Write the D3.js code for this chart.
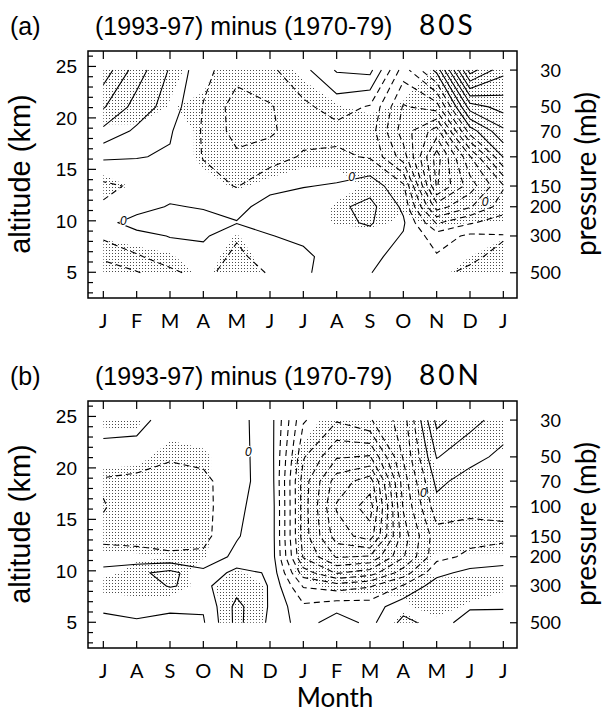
<!DOCTYPE html>
<html><head><meta charset="utf-8">
<script src="https://cdn.jsdelivr.net/npm/d3@7"></script>
<style>body{margin:0;background:#fff}</style>
</head><body>
<svg id="chart" width="605" height="713"></svg>
<script>
// ---------------- data ----------------
const pressureLevels = [500, 400, 300, 250, 200, 150, 100, 70, 50, 30];   // grid rows (bottom -> top)
const monthsA = ["J","F","M","A","M","J","J","A","S","O","N","D","J"];
const monthsB = ["J","A","S","O","N","D","J","F","M","A","M","J","J"];
const altitudeTicks = [5, 10, 15, 20, 25];
const pressureTicks = [30, 50, 70, 100, 150, 200, 300, 500];
const contourLevels = d3.range(-12, 9, 1);

// temperature difference (K), (1993-97) minus (1970-79), 80S; rows = pressureLevels, cols = months
const tempDiffA = [
  [-2.6,-2.1,-1.2,-0.65,-1.6,-0.9,-0.2, 0.6, 0.05,-0.8,-0.9,-1.1,-1.8],
  [-1.8,-1.1,-0.6,-0.5,-1.2,-0.6,-0.3, 0.6, 0.5,-0.75,-0.9,-0.9,-1.15],
  [-0.8,-0.4, 0.05, 0.2,-0.9,-0.05, 0.3, 0.6, 0.7,-0.09,-1.5,-0.8,-0.95],
  [-0.4, 0.5, 0.6, 0.5, 0.05, 0.4, 0.6, 0.8, 1.1, 0.15,-3.1,-2.1,-1.5],
  [-0.9,-0.5, 0.1,-0.1,-0.3, 0.4, 0.6, 0.8, 1.3,-0.2,-5.5,-4.1,-2.5],
  [-1.2,-0.85,-0.6,-0.6,-1.05,-0.3,-0.05, 0.1, 0.6,-0.8,-8.1,-5.5,-3.1],
  [ 0.15, 0.05,-0.1,-1.05,-1.8,-1.4,-0.9,-0.8,-1.1,-3.5,-8.5,-4.1, 0.05],
  [ 1.75, 0.8, 0.1,-1.1,-2.4,-2.2,-1.3,-1.3,-1.5,-4.5,-6.5,-0.5, 1.8],
  [ 3.1, 1.6, 0.55,-1.05,-2.5,-2.1,-1.2,-0.6,-1.1,-4.1,-3.5, 2.5, 3.4],
  [ 4.6, 2.5, 0.9,-0.7,-1.6,-1.2,-0.3, 1.1, 1.3,-2.5, 0.3, 7.5, 5.3]
];
// significance mask (stippled where > 0.5), 80S
const signifA = [
  [1, 1, 1, 0.3, 1, 0.3, 0, 0, 0, 0, 0.3, 0.8, 1],
  [1, 1, 0.6, 0, 1, 0, 0, 0, 0, 0, 0.2, 0.5, 1],
  [0.4, 0, 0, 0, 0.55, 0, 0, 0, 0, 0, 0, 0, 0.4],
  [0, 0, 0, 0, 0, 0, 0, 0.6, 0.8, 0.3, 0.7, 0.5, 0.5],
  [0.2, 0, 0, 0, 0, 0, 0, 0.6, 1, 0.6, 1, 1, 1],
  [0.8, 0.4, 0, 0.2, 0.6, 0.3, 0, 0.2, 0.6, 1, 1, 1, 1],
  [0, 0, 0, 0.7, 1, 1, 0.8, 0.7, 1, 1, 1, 1, 1],
  [0.3, 0.3, 0, 0.7, 1, 1, 1, 1, 1, 1, 1, 1, 1],
  [1, 1, 0.45, 0.7, 1, 1, 1, 0.55, 0.3, 0.6, 1, 1, 1],
  [1, 1, 0.7, 0.2, 1, 1, 0.3, 0, 0, 0, 0.6, 1, 1]
];
// 80N
const tempDiffB = [
  [-0.3,-0.1,-0.3,-0.1, 2.3, 0.8,-0.5, 0.6,-0.3, 1.3, 0.6, 1.4, 1.5],
  [ 0.2, 0.3, 0.2, 0.1, 2.3, 0.9,-0.8,-0.4,-0.5, 0.6, 0.8, 0.9, 0.9],
  [ 0.5, 0.6, 1.05, 0.8, 1.6, 0.95,-2.1,-2.5,-2.1,-0.9, 0.5, 0.8, 0.7],
  [ 0.4, 0.8, 1.3, 0.3, 1.3, 0.9,-3.5,-5.1,-4.5,-2.5,-0.3, 0.3, 0.5],
  [-0.7,-0.7,-0.8,-0.8, 0.3, 0.8,-5.1,-7.1,-6.9,-4.1,-1.3,-0.8,-0.6],
  [-1.2,-1.3,-1.5,-1.3,-0.1, 0.8,-5.5,-8.5,-9.5,-4.5,-1.4,-1.3,-1.2],
  [-0.95,-1.4,-1.5,-1.3,-0.3, 0.8,-5.5,-9.1,-10.5,-3.9,-0.4,-0.8,-0.8],
  [-1.1,-1.3,-1.4,-1.2,-0.5, 0.7,-5.5,-8.5,-9.5,-3.5, 0.3,-0.5,-0.6],
  [-0.4,-0.4,-0.9,-0.8,-0.4, 0.6,-4.9,-6.9,-7.1,-2.9, 1.05, 0.4,-0.3],
  [ 0.4, 0.3,-0.4,-0.5,-0.3, 0.5,-3.9,-4.9,-4.1,-2.5, 2.3, 1.3, 0.6]
];
const signifB = [
  [0, 0, 0, 0, 1, 0.4, 0, 0, 0, 0.7, 0.3, 0, 0],
  [0, 0, 0, 0, 1, 0.4, 0, 0, 0, 0.4, 0.8, 0.4, 0],
  [0.8, 1, 1, 0.2, 1, 0.4, 0.3, 0.7, 0.8, 0.6, 0.8, 0.8, 0.7],
  [0.3, 0.7, 1, 0.1, 0.6, 0.2, 0.6, 1, 1, 1, 0.3, 0.4, 0.4],
  [0.35, 0.4, 0.5, 0.55, 0, 0, 0.6, 1, 1, 1, 0.4, 0.4, 0.4],
  [1, 1, 1, 0.65, 0, 0, 0.6, 1, 1, 1, 1, 1, 1],
  [1, 1, 1, 0.65, 0, 0, 0.6, 1, 1, 1, 1, 1, 1],
  [1, 1, 1, 0.65, 0, 0, 0.6, 1, 1, 1, 0.6, 0.6, 0.6],
  [0.1, 0.2, 0.9, 0.65, 0, 0, 0.8, 1, 1, 1, 0.4, 0.4, 0.4],
  [0.6, 0.6, 0, 0, 0, 0, 0, 1, 1, 1, 1, 1, 1]
];
// positions (month index, altitude km) of the "0" contour labels
const zeroLabelsA = [[0.6, 10.0], [7.45, 14.3], [11.45, 11.85]];
const zeroLabelsB = [[4.35, 21.6], [9.6, 17.6]];

// ---------------- drawing ----------------
const svg = d3.select("#chart");
const altOfP = p => 7 * Math.log(1000 / p) + 0.1;
const rowAlt = d3.scaleLinear().domain(d3.range(pressureLevels.length)).range(pressureLevels.map(altOfP));
const nx = 13, ny = pressureLevels.length;

const defs = svg.append("defs");
const pat = defs.append("pattern").attr("id", "dots").attr("patternUnits", "userSpaceOnUse")
  .attr("width", 3).attr("height", 3);
pat.append("rect").attr("x", 1).attr("y", 1).attr("width", 1).attr("height", 1).attr("fill", "#4a4a4a");

const X0 = 88, X1 = 517, PH = 247;
const hersh = "Lato, 'Open Sans', sans-serif";
const helv = "'Liberation Sans', Arial, sans-serif";

function contourLines(values, level) {
  const c = d3.contours().size([nx, ny]).thresholds([level])(values.flat())[0];
  const out = [];
  const isB = p => p[0] <= 0 || p[0] >= nx || p[1] <= 0 || p[1] >= ny;
  for (const poly of c.coordinates) for (const ring of poly) {
    const pts = ring.slice(0, ring.length - 1);
    const b = pts.findIndex(isB);
    if (b < 0) { out.push(pts.concat([pts[0]])); continue; }
    const rot = pts.slice(b).concat(pts.slice(0, b));
    let run = [];
    for (const p of rot) {
      if (isB(p)) { if (run.length > 1) out.push(run); run = []; }
      else run.push(p);
    }
    if (run.length > 1) out.push(run);
  }
  return out;
}

function drawPanel(cfg) {
  const top = cfg.top, bottom = top + PH;
  const x = d3.scaleLinear().domain([-0.46, 12.41]).range([X0, X1]);
  const y = d3.scaleLinear().domain([2.5, 26.5]).range([bottom, top]);
  const g = svg.append("g");
  const clipId = "clip" + cfg.id;
  defs.append("clipPath").attr("id", clipId).append("rect")
    .attr("x", X0).attr("y", top).attr("width", X1 - X0).attr("height", PH);
  const px = p => {
    const xi = Math.max(0, Math.min(nx - 1, p[0] - 0.5));
    const yi = Math.max(0, Math.min(ny - 1, p[1] - 0.5));
    return [x(xi), y(rowAlt(yi))];
  };
  const plot = g.append("g").attr("clip-path", `url(#${clipId})`);

  // stipple (significance)
  const sc = d3.contours().size([nx, ny]).thresholds([0.5])(cfg.sig.flat())[0];
  let dstr = "";
  for (const poly of sc.coordinates) for (const ring of poly) {
    dstr += "M" + ring.map(p => px(p).map(v => v.toFixed(2)).join(",")).join("L") + "Z";
  }
  plot.append("path").attr("d", dstr).attr("fill", "url(#dots)").attr("fill-rule", "evenodd");

  // contour lines
  const line = d3.line().x(p => px(p)[0]).y(p => px(p)[1]);
  for (const lev of contourLevels) {
    const lines = contourLines(cfg.temp, lev);
    for (const l of lines) {
      plot.append("path").attr("d", line(l)).attr("fill", "none")
        .attr("stroke", "#000").attr("stroke-width", 1.1)
        .attr("stroke-dasharray", lev < 0 ? "6,4" : null);
    }
  }
  // zero labels
  for (const [m, a] of cfg.zeros) {
    plot.append("ellipse").attr("cx", x(m)).attr("cy", y(a)).attr("rx", 4).attr("ry", 6).attr("fill", "#fff");
    plot.append("text").attr("x", x(m)).attr("y", y(a)).attr("dy", "0.36em")
      .attr("text-anchor", "middle").attr("font-family", helv).attr("font-style", "italic")
      .attr("font-size", 12).attr("fill", "#000").text("0");
  }

  // frame
  g.append("rect").attr("x", X0).attr("y", top).attr("width", X1 - X0).attr("height", PH)
    .attr("fill", "none").attr("stroke", "#000").attr("stroke-width", 1.5);
  // month ticks (top and bottom, inward)
  d3.range(13).forEach(i => {
    g.append("line").attr("x1", x(i)).attr("x2", x(i)).attr("y1", top).attr("y2", top + 8).attr("stroke", "#000").attr("stroke-width", 1.2);
    g.append("line").attr("x1", x(i)).attr("x2", x(i)).attr("y1", bottom).attr("y2", bottom - 7).attr("stroke", "#000").attr("stroke-width", 1.2);
    g.append("text").attr("x", x(i)).attr("y", bottom + 30).attr("text-anchor", "middle")
      .attr("font-family", hersh).attr("font-size", 20).text(cfg.months[i]);
  });
  // altitude ticks (left)
  d3.range(3, 27).forEach(k => {
    const major = k % 5 === 0;
    g.append("line").attr("x1", X0).attr("x2", X0 + (major ? 8 : 5)).attr("y1", y(k)).attr("y2", y(k))
      .attr("stroke", "#000").attr("stroke-width", 1.2);
  });
  altitudeTicks.forEach(k => {
    g.append("text").attr("x", 77).attr("y", y(k)).attr("dy", "0.36em").attr("text-anchor", "end")
      .attr("font-family", helv).attr("font-size", 19).text(k);
  });
  // pressure ticks (right)
  pressureTicks.forEach(p => {
    g.append("line").attr("x1", X1).attr("x2", X1 - 7).attr("y1", y(altOfP(p))).attr("y2", y(altOfP(p)))
      .attr("stroke", "#000").attr("stroke-width", 1.2);
    g.append("text").attr("x", 561).attr("y", y(altOfP(p))).attr("dy", "0.36em").attr("text-anchor", "end")
      .attr("font-family", hersh).attr("font-size", 18).text(p);
  });
  // axis titles
  g.append("text").attr("transform", `translate(30,${top + 123}) rotate(-90)`).attr("text-anchor", "middle")
    .attr("font-family", helv).attr("font-size", 29).text("altitude (km)");
  g.append("text").attr("transform", `translate(596,${top + 123}) rotate(-90)`).attr("text-anchor", "middle")
    .attr("font-family", hersh).attr("font-size", 28).text("pressure (mb)");
  // titles
  g.append("text").attr("x", 10).attr("y", top - 16).attr("font-family", helv).attr("font-size", 25).text(cfg.label);
  g.append("text").attr("x", 95).attr("y", top - 16).attr("font-family", helv).attr("font-size", 25).text("(1993-97) minus (1970-79)");
  g.append("text").attr("x", 419).attr("y", top - 16).attr("font-family", hersh).attr("font-size", 28)
    .attr("letter-spacing", 3).text(cfg.loc);
}

drawPanel({id: "a", top: 51, label: "(a)", loc: "80S", months: monthsA, temp: tempDiffA, sig: signifA, zeros: zeroLabelsA});
drawPanel({id: "b", top: 401, label: "(b)", loc: "80N", months: monthsB, temp: tempDiffB, sig: signifB, zeros: zeroLabelsB});

svg.append("text").attr("x", 335).attr("y", 707).attr("text-anchor", "middle")
  .attr("font-family", hersh).attr("font-size", 26).text("Month");
</script>
</body></html>
